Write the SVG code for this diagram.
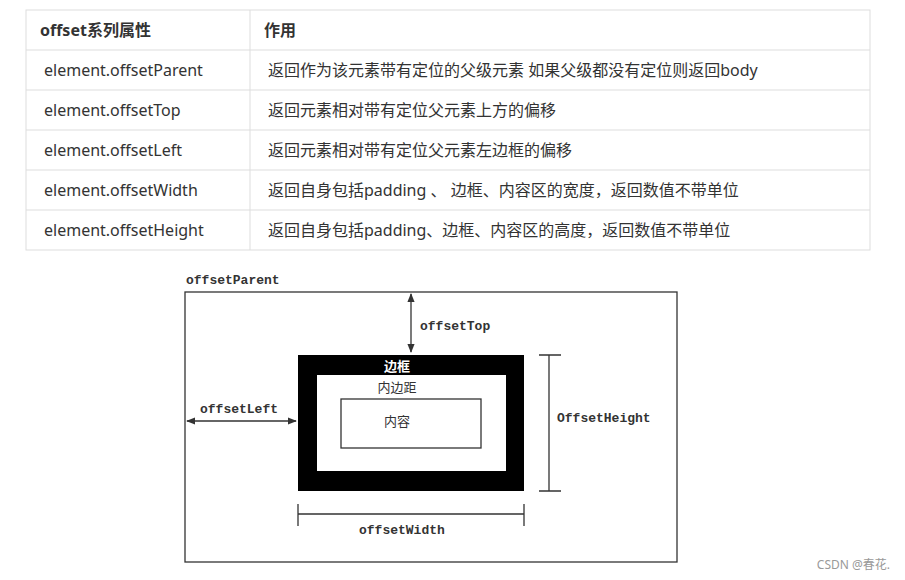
<svg xmlns="http://www.w3.org/2000/svg" width="905" height="580" viewBox="0 0 905 580">
<style>
.t{font-family:"Noto Sans","Noto Sans CJK SC",sans-serif;font-size:16px;fill:#333}
.h{font-weight:bold}
.m{font-family:"Liberation Mono","Noto Sans CJK SC",monospace;font-size:13px;fill:#333;font-weight:bold}
.c{font-family:"Noto Sans CJK SC",sans-serif;font-size:13px}
.ln{stroke:#333;stroke-width:1.3;fill:none}
</style>
<defs><marker id="a" viewBox="0 0 10 10" refX="9" refY="5" markerWidth="7" markerHeight="7" orient="auto-start-reverse"><path d="M0,1L10,5L0,9z" fill="#333"/></marker></defs>
<rect width="905" height="580" fill="#fff"/>
<g id="table">
<rect x="26" y="10" width="844" height="240" fill="#fff" stroke="#ddd"/>
<g stroke="#ddd"><line x1="26" y1="50" x2="870" y2="50"/><line x1="26" y1="90" x2="870" y2="90"/><line x1="26" y1="130" x2="870" y2="130"/><line x1="26" y1="170" x2="870" y2="170"/><line x1="26" y1="210" x2="870" y2="210"/><line x1="250" y1="10" x2="250" y2="250"/></g>
<text class="t h" x="40" y="36">offset系列属性</text><text class="t h" x="264" y="36">作用</text>
<text class="t" x="44" y="76">element.offsetParent</text><text class="t" x="268" y="76">返回作为该元素带有定位的父级元素 如果父级都没有定位则返回body</text>
<text class="t" x="44" y="116">element.offsetTop</text><text class="t" x="268" y="116">返回元素相对带有定位父元素上方的偏移</text>
<text class="t" x="44" y="156">element.offsetLeft</text><text class="t" x="268" y="156">返回元素相对带有定位父元素左边框的偏移</text>
<text class="t" x="44" y="196">element.offsetWidth</text><text class="t" x="268" y="196">返回自身包括padding 、 边框、内容区的宽度，返回数值不带单位</text>
<text class="t" x="44" y="236">element.offsetHeight</text><text class="t" x="268" y="236">返回自身包括padding、边框、内容区的高度，返回数值不带单位</text>
</g>
<g id="parent"><text class="m" x="186" y="284">offsetParent</text><rect x="185" y="292" width="492" height="270" class="ln"/></g>
<g id="border"><rect x="298" y="355" width="226" height="136" fill="#000"/><rect x="317" y="375" width="189" height="96" fill="#fff"/><text class="c" x="397" y="371" text-anchor="middle" fill="#fff" font-weight="bold">边框</text></g>
<g id="padding"><text class="c" x="397" y="392" text-anchor="middle" fill="#333">内边距</text></g>
<g id="content"><rect x="341" y="399" width="140" height="49" class="ln"/><text class="c" x="397" y="426" text-anchor="middle" fill="#333">内容</text></g>
<g id="connectors">
<line x1="411" y1="294" x2="411" y2="352" class="ln" marker-start="url(#a)" marker-end="url(#a)"/>
<line x1="187" y1="421" x2="296" y2="421" class="ln" marker-start="url(#a)" marker-end="url(#a)"/>
<path d="M549,355V491M539,355H561M539,491H561" class="ln"/>
<path d="M298,514H524M298,504V526M524,504V526" class="ln"/>
</g>
<text class="m" x="420" y="330">offsetTop</text>
<text class="m" x="200" y="413">offsetLeft</text>
<text class="m" x="557" y="422">OffsetHeight</text>
<text class="m" x="359" y="534">offsetWidth</text>
<text x="890" y="569" text-anchor="end" font-family="Noto Sans,Noto Sans CJK SC,sans-serif" font-size="12" fill="#999">CSDN @春花.</text>
</svg>
